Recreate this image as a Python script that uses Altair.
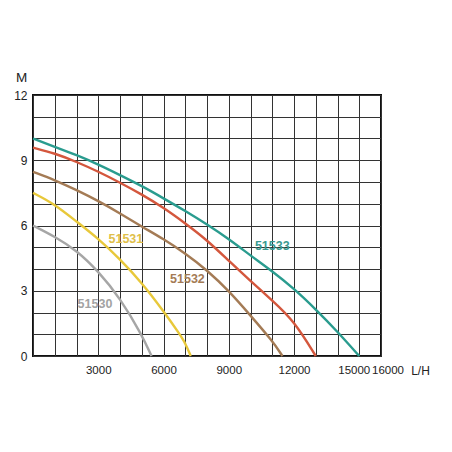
import altair as alt
import pandas as pd

# ---- data ----
x_grid = list(range(0, 16001, 1000))
x_label_values = [3000, 6000, 9000, 12000, 15000, 16000]
y_grid = list(range(0, 13))
y_label_values = [0, 3, 6, 9, 12]

s51530_x = [0, 1000, 2000, 3000, 4000, 5000, 5450]
s51530_y = [6.0, 5.49, 4.86, 3.9, 2.67, 0.98, 0.0]

s51531_x = [0, 1000, 2000, 3000, 4000, 5000, 6000, 6750, 7000, 7250]
s51531_y = [7.5, 6.98, 6.18, 5.4, 4.45, 3.37, 2.06, 1.0, 0.6, 0.0]

s51532_x = [0, 1000, 2000, 3000, 4000, 5000, 6000, 7000, 8000, 9000, 10000, 11000, 11470]
s51532_y = [8.47, 8.09, 7.63, 7.13, 6.56, 5.95, 5.38, 4.72, 3.95, 3.0, 1.86, 0.7, 0.0]

sred_x = [0, 1000, 2000, 3000, 4000, 5000, 6000, 7000, 8000, 9000, 10000, 11000, 12000, 13000]
sred_y = [9.58, 9.32, 8.93, 8.48, 7.97, 7.43, 6.82, 6.1, 5.33, 4.38, 3.45, 2.55, 1.62, 0.0]

s51533_x = [0, 1000, 2000, 3000, 4000, 5000, 6000, 7000, 8000, 9000, 10000, 11000, 12000, 13000, 14000, 15000]
s51533_y = [10.0, 9.62, 9.24, 8.81, 8.32, 7.82, 7.25, 6.67, 6.05, 5.38, 4.62, 3.9, 3.1, 2.15, 1.12, 0.0]

series_names = ["51530", "51531", "51532", "red", "51533"]
series_x = [s51530_x, s51531_x, s51532_x, sred_x, s51533_x]
series_y = [s51530_y, s51531_y, s51532_y, sred_y, s51533_y]
line_colors = ["#a6a6a6", "#e8c83a", "#a47b55", "#d4573d", "#2a9c8f"]

label_names = ["51530", "51531", "51532", "51533"]
label_x = [2850, 4270, 7100, 11000]
label_y = [2.39, 5.36, 3.53, 5.06]
label_colors = ["#a3a3a3", "#dfc04a", "#a47b55", "#3a9a90"]

rows = []
for n, xs, ys, c in zip(series_names, series_x, series_y, line_colors):
    for xv, yv in zip(xs, ys):
        rows.append({"series": n, "flow": xv, "head": yv, "col": c})
lines_df = pd.DataFrame(rows)

labels_df = pd.DataFrame({"name": label_names, "lx": label_x, "ly": label_y, "col": label_colors})

FONT = "Liberation Sans"

x_scale = alt.Scale(domain=[0, 16000], nice=False, zero=False)
y_scale = alt.Scale(domain=[0, 12], nice=False)

x_label_list = ",".join(str(v) for v in x_label_values)
y_label_list = ",".join(str(v) for v in y_label_values)

x_axis = alt.Axis(
    values=x_grid,
    grid=True,
    gridColor="#333333",
    gridWidth=1,
    ticks=False,
    tickSize=0,
    domain=False,
    format="d",
    labelExpr=f"indexof([{x_label_list}], datum.value) >= 0 ? datum.label : ''",
    labelOffset={"condition": [{"test": "datum.value == 15000", "value": -5.5},
                               {"test": "datum.value == 16000", "value": 6.5}],
                 "value": 0},
    labelFont=FONT,
    labelFontSize=11.5,
    labelColor="#222222",
    labelBaseline="middle",
    labelPadding=14.5,
    labelOverlap=False,
    labelFlush=False,
    title="L/H",
    titleFont=FONT,
    titleFontSize=12,
    titleFontWeight="normal",
    titleColor="#222222",
    titleX=387,
    titleY=14.7,
    titleAlign="center",
    titleBaseline="middle",
)

y_axis = alt.Axis(
    values=y_grid,
    grid=True,
    gridColor="#333333",
    gridWidth=1,
    ticks=False,
    tickSize=0,
    domain=False,
    labelExpr=f"indexof([{y_label_list}], datum.value) >= 0 ? datum.label : ''",
    labelFont=FONT,
    labelFontSize=12,
    labelColor="#222222",
    labelPadding=6,
    labelOverlap=False,
    labelFlush=False,
    title="M",
    titleFont=FONT,
    titleFontSize=13.5,
    titleFontWeight="normal",
    titleColor="#222222",
    titleAngle=0,
    titleX=-12,
    titleY=-18,
    titleAlign="center",
    titleBaseline="middle",
)

lines = alt.Chart(lines_df).mark_line(interpolate="basis", strokeWidth=2.4).encode(
    x=alt.X("flow:Q", scale=x_scale, axis=x_axis),
    y=alt.Y("head:Q", scale=y_scale, axis=y_axis),
    color=alt.Color("col:N", scale=None),
    detail="series:N",
)

texts = alt.Chart(labels_df).mark_text(
    font=FONT, fontSize=12.5, fontWeight="bold", align="center", baseline="middle"
).encode(
    x=alt.X("lx:Q", scale=x_scale, axis=x_axis),
    y=alt.Y("ly:Q", scale=y_scale, axis=y_axis),
    text="name:N",
    color=alt.Color("col:N", scale=None),
)

chart = alt.layer(lines, texts).properties(
    width=348,
    height=261,
    autosize=alt.AutoSizeParams(type="none"),
    padding={"left": 25, "top": 87, "right": 63, "bottom": 88},
    background="white",
).configure_view(stroke="#111111", strokeWidth=2)

chart.save("out.html", embed_options={"renderer": "svg", "actions": False})
